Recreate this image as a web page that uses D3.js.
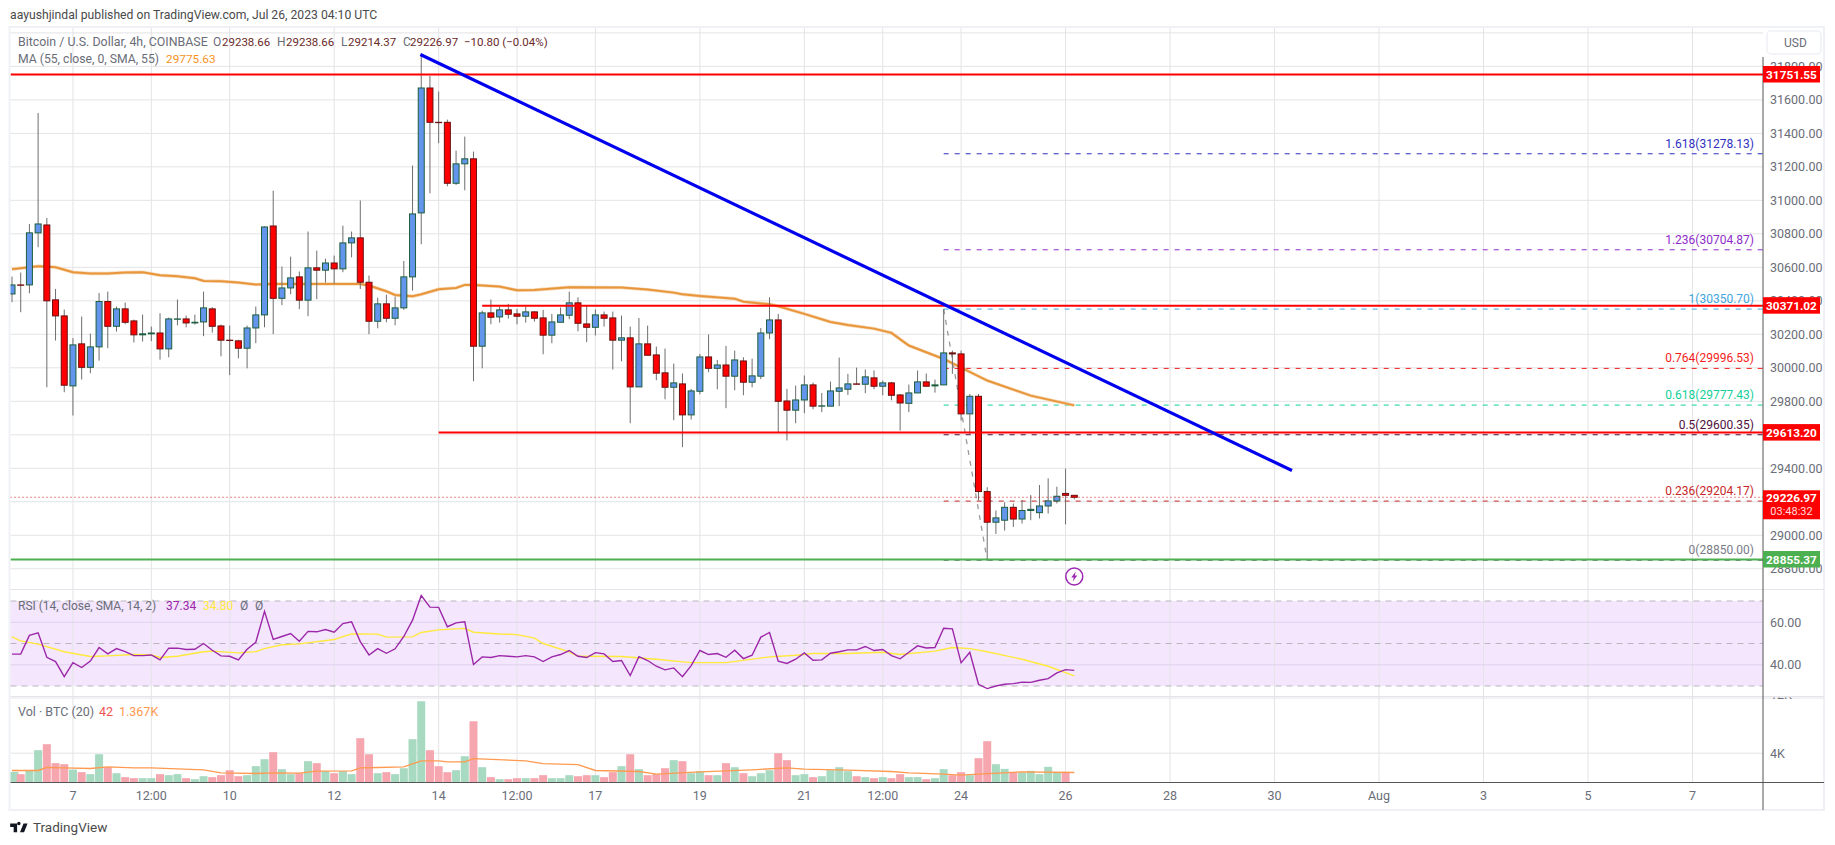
<!DOCTYPE html>
<html>
<head>
<meta charset="utf-8">
<script src="https://cdn.jsdelivr.net/npm/d3@7"></script>
<style>
  html, body { margin: 0; padding: 0; background: #fff; }
  svg { display: block; font-family: Roboto, sans-serif; }
  .tick-label { fill: #6a6d78; font-size: 12.5px; }
</style>
</head>
<body>
<svg width="1835" height="845"></svg>
<script>
// 4h candles, index 0 = Jul 5 20:00
const opens = [30441,30495,30495,30806,30853,30406,30310,29892,30143,30003,30125,30396,30248,30352,30280,30197,30203,30208,30113,30290,30292,30268,30274,30352,30250,30165,30161,30117,30238,30316,30847,30415,30477,30543,30404,30597,30583,30626,30591,30746,30776,30511,30278,30382,30296,30358,30543,30925,31671,31466,31466,31102,31218,31248,30129,30328,30304,30346,30322,30308,30334,30298,30195,30272,30314,30388,30262,30242,30316,30298,30165,30179,29886,30143,30077,29970,29884,29904,29719,29860,30065,29997,30017,29950,30041,29914,29950,30208,30286,29802,29747,29808,29898,29771,29771,29860,29872,29904,29902,29940,29890,29910,29838,29788,29850,29916,29892,29898,30089,30083,29725,29830,29261,29078,29090,29167,29097,29148,29135,29175,29205,29250,29238.66];
const highs = [30545,30569,30859,31522,30895,30471,30348,30177,30306,30204,30447,30455,30366,30390,30288,30318,30246,30326,30300,30408,30312,30318,30455,30362,30258,30252,30167,30252,30366,30845,31058,30605,30664,30575,30814,30700,30652,30670,30849,30814,30999,30551,30419,30437,30425,30638,31208,31871,31743,31650,31482,31297,31381,31291,30342,30408,30366,30382,30352,30366,30338,30346,30322,30360,30455,30421,30370,30348,30336,30336,30312,30246,30298,30252,30127,30115,30025,29966,29874,30083,30199,30047,30131,30103,30063,30055,30238,30421,30322,29874,29894,29954,29912,29850,29918,30061,29964,30001,29990,29984,29924,29916,29844,29900,29984,29966,29930,30350.7,30103,30103,29844,29844,29287,29148,29197,29190,29210,29240,29300,29340,29290,29398,29238.66];
const lows = [30392,30332,30445,30720,29884,30163,29854,29715,29930,29968,30043,30117,30216,30260,30151,30157,30159,30049,30063,30254,30242,30258,30189,30210,30069,29956,30057,29997,30147,30242,30201,30374,30439,30350,30308,30410,30509,30503,30571,30660,30471,30201,30236,30272,30254,30346,30461,30738,31042,31341,31084,31092,31060,29920,29997,30260,30270,30294,30260,30270,30276,30081,30147,30272,30290,30218,30153,30193,30246,29990,30039,29669,29886,30075,29926,29812,29687,29526,29691,29842,29974,29872,29759,29866,29836,29884,29932,30171,29615,29566,29669,29729,29753,29735,29771,29771,29838,29900,29848,29872,29836,29806,29625,29735,29850,29890,29852,29898,29964,29685,29605,29207,28850,29008,29028,29050,29070,29090,29100,29130,29190,29065,29214.37];
const closes = [30495,30493,30806,30859,30400,30310,29896,30137,30003,30125,30396,30248,30352,30272,30197,30203,30208,30113,30292,30292,30268,30272,30358,30248,30165,30163,30117,30238,30316,30841,30415,30477,30537,30404,30597,30583,30626,30591,30746,30776,30511,30278,30382,30296,30358,30543,30919,31671,31466,31464,31102,31218,31248,30129,30328,30302,30346,30320,30308,30334,30296,30195,30274,30316,30388,30266,30242,30316,30296,30165,30179,29886,30143,30075,29968,29884,29910,29719,29862,30065,29997,30017,29950,30047,29914,29952,30208,30286,29800,29747,29808,29898,29771,29773,29862,29880,29904,29902,29946,29890,29910,29836,29790,29850,29916,29890,29898,30089,30083,29725,29830,29261,29078,29104,29167,29097,29148,29155,29175,29205,29233,29238.66,29226.97];

// SMA 55
const maIdx = [0,3,5,7,9,11,13,15,17,19,21,22,24,26,28,30,34,38,40,41,43,44,46,47,49,51,52,53,56,58,60,64,70,73,76,77,79,83,84,87,88,91,94,96,99,101,103,107,112,117,122];
const maVal = [30589,30607,30601,30571,30563,30563,30569,30571,30553,30547,30535,30519,30517,30509,30497,30501,30501,30501,30501,30491,30457,30435,30427,30439,30469,30477,30495,30495,30485,30463,30465,30481,30479,30467,30449,30439,30429,30413,30395,30380,30368,30322,30274,30256,30234,30209,30133,30053,29924,29834,29775.63];

const rsi = [45,45,53.8,55,43.5,41.5,34.4,41,38.7,41.7,48.1,45.1,47.6,46.2,44.3,44.3,44.6,42.3,47.8,47.8,47.2,47.3,50,46.8,44.2,44,42.3,47.3,50.6,65.1,51.9,53.3,54.7,51.1,55.7,55.5,56.6,55.3,59.4,60.2,50.9,44.6,47.6,45.4,47.5,53.3,61,72.6,67.1,67,57.9,59.7,60.2,40.1,43.7,43.4,44.3,44,43.7,44.3,43.7,41.5,43.7,44.8,46.7,44,43.4,45.7,45.1,41.5,42,34.9,43.8,42,39.3,37.6,38.5,34.4,39.6,46.7,44.8,45.3,43.5,46.8,42.9,44.5,53,55.2,41.7,40.6,42.6,45.6,42.1,42.3,45.4,46.1,47,47,48.6,46.7,47.2,44.3,42.8,45.9,48.9,47.9,48.1,57.2,56.9,40.9,45.9,30.8,28.8,30,30.8,31.1,31.8,31.7,32.7,33.5,36.2,37.7,37.34];
const rsiMaIdx = [0,1,3,6,9,11,14,16,17,19,22,23,26,28,29,31,33,37,39,42,43,46,47,49,52,53,56,58,60,61,64,65,70,74,78,82,87,90,92,96,100,102,106,108,110,112,116,119,122];
const rsiMaVal = [53.1,51.2,49.7,46.1,43.9,44.2,44.8,44.6,43.4,44,46.1,46.4,45.6,46.2,47.6,49.4,49.8,51.9,54.5,54.4,53,53.1,55.2,56.4,57.1,55.3,54.5,54.2,52.5,50,46.1,44,43.9,42.6,41,41,43.7,44.5,45.3,45.3,45.9,44.8,46.4,48.1,47.6,46.1,42.6,39.3,34.8];

const volume = [1.45,1.14,1.59,4.41,5.23,2.64,2.5,1.77,1.41,1.14,3.86,2.09,1.27,.73,.59,.59,.59,1.14,1,1.14,.59,.45,.86,.73,1,1.68,.86,1,2.23,3.18,4.14,1.82,1.14,1.27,2.91,2.64,1.55,1.27,1.55,1.14,6.05,3.86,1.27,1.41,1.14,1.95,5.91,11.09,4.41,2.23,1.41,1.68,3.59,8.36,2.09,.73,.45,.45,.59,.59,.59,1,.59,.59,1,.86,1,1,.73,1.41,2.23,3.86,1.82,1,1.14,1.95,3.05,2.91,1.27,1.55,1,1,2.64,2.09,1.27,.86,1.27,1.68,4,3.05,1,1.14,.73,.86,1.68,2.09,1.55,.86,.73,.59,.73,.59,1.14,.73,.73,.45,.59,1.82,1,1.41,1,3.32,5.64,2.5,1.86,1.45,1.36,1.59,1.14,2.14,1.45,1.45,.042];
const volMaIdx = [0,3,4,6,9,11,14,16,19,22,24,28,30,33,35,39,40,42,45,47,49,50,52,53,59,61,65,67,72,74,79,85,89,91,96,101,103,107,109,111,116,122];
const volMaVal = [1.64,1.64,2.05,2,1.91,2.14,2,2,1.86,1.73,1.32,1.23,1.32,1.27,1.55,1.59,2,2.05,2.14,2.95,2.95,2.82,2.82,3.27,2.95,2.59,2.45,1.64,1.5,1.14,1.45,1.73,2,1.82,1.68,1.5,1.32,1.14,1,1.14,1.45,1.367];

const priceTicks = d3.range(28800, 32001, 200);
const rsiTicks = [60, 40];
const rsiBands = [70, 50, 30];
const volTicks = [4, 12];
const timeTickIdx = [7,16,25,37,49,58,67,79,91,100,109,121,133,145,157,169,181,193];
const timeTickLabels = ["7","12:00","10","12","14","12:00","17","19","21","12:00","24","26","28","30","Aug","3","5","7"];

const fibRatios = ["1.618","1.236","1","0.764","0.618","0.5","0.236","0"];
const fibPrices = [31278.13,30704.87,30350.70,29996.53,29777.43,29600.35,29204.17,28850.00];
const fibColors = ["#2f2fbf","#8e2cc9","#42a5e0","#f21d1d","#14cf9a","#4f0f3c","#c62828","#787b86"];

const priceTags = [31751.55,30371.02,29613.20];
const hLineStart = [0,54,49];
const supportPrice = 28855.37;
const lastClose = 29226.97;
const trendIdx = [46.9,147];
const trendPrice = [31871,29387];

const axisX = 1763, rightEdge = 1824, plotLeft = 10.5;
const up = "#6495ed", upBorder = "#1b5e3b", down = "#ff0000", downBorder = "#6b0f0f";

const svg = d3.select("svg");

const x = d3.scaleLinear().domain([0, 193]).range([12, 1692.5]);
const y = d3.scaleLinear().domain([31751.55, 28855.37]).range([74.5, 559.5]);
const yRsi = d3.scaleLinear().domain([70, 30]).range([601, 686]);
const yVol = d3.scaleLinear().domain([0, 4]).range([782.5, 753.2]);

const defs = svg.append("defs");
defs.append("clipPath").attr("id", "plot").append("rect")
  .attr("x", plotLeft).attr("y", 27.5).attr("width", axisX - plotLeft).attr("height", 561.5);
defs.append("clipPath").attr("id", "volPane").append("rect")
  .attr("x", plotLeft).attr("y", 697.5).attr("width", rightEdge - plotLeft).attr("height", 86);

// title
svg.append("text").attr("x", 10).attr("y", 19).attr("font-size", 12.2).attr("fill", "#4a4a4a")
  .text("aayushjindal published on TradingView.com, Jul 26, 2023 04:10 UTC");

// frame
svg.append("rect").attr("x", 9.5).attr("y", 27).attr("width", rightEdge - 9.5).attr("height", 783)
  .attr("fill", "#fff").attr("stroke", "#eff1f6").attr("stroke-width", 2);

// rsi background
svg.append("rect").attr("x", plotLeft).attr("y", yRsi(70)).attr("width", axisX - plotLeft)
  .attr("height", yRsi(30) - yRsi(70)).attr("fill", "#f3e6fd");

// grid
const gridColor = "#e4e4e6";
svg.append("g").selectAll("line").data(timeTickIdx).join("line")
  .attr("x1", d => x(d)).attr("x2", d => x(d)).attr("y1", 28).attr("y2", 782)
  .attr("stroke", gridColor).attr("stroke-width", 1);
svg.append("g").selectAll("line").data(priceTicks).join("line")
  .attr("x1", plotLeft).attr("x2", axisX).attr("y1", d => y(d)).attr("y2", d => y(d))
  .attr("stroke", gridColor);
svg.append("g").selectAll("line").data(rsiTicks).join("line")
  .attr("x1", plotLeft).attr("x2", axisX).attr("y1", d => yRsi(d)).attr("y2", d => yRsi(d))
  .attr("stroke", "#e0d0ee");
svg.append("g").selectAll("line").data(rsiBands).join("line")
  .attr("x1", plotLeft).attr("x2", axisX).attr("y1", d => yRsi(d)).attr("y2", d => yRsi(d))
  .attr("stroke", "#b9b5bf").attr("stroke-dasharray", "6 5");
svg.append("g").attr("clip-path", "url(#volPane)").selectAll("line").data(volTicks).join("line")
  .attr("x1", plotLeft).attr("x2", axisX).attr("y1", d => yVol(d)).attr("y2", d => yVol(d))
  .attr("stroke", gridColor);

// pane separators
svg.append("g").selectAll("line").data([589.5, 696.5, 698]).join("line")
  .attr("x1", plotLeft).attr("x2", rightEdge).attr("y1", d => d).attr("y2", d => d)
  .attr("stroke", "#e4e4ea");

const plot = svg.append("g").attr("clip-path", "url(#plot)");

// fib levels
const fibX1 = x(107);
plot.append("line").attr("x1", x(107)).attr("y1", y(fibPrices[2])).attr("x2", x(112)).attr("y2", y(fibPrices[7]))
  .attr("stroke", "#9a9a9a").attr("stroke-width", 1.3).attr("stroke-dasharray", "5 6");
plot.selectAll(".fib").data(fibPrices).join("line").attr("class", "fib")
  .attr("x1", fibX1).attr("x2", axisX).attr("y1", d => y(d)).attr("y2", d => y(d))
  .attr("stroke", (d, i) => fibColors[i]).attr("stroke-width", 1).attr("stroke-dasharray", "5 6");
plot.selectAll(".fibLabel").data(fibPrices).join("text").attr("class", "fibLabel")
  .attr("x", 1754).attr("y", d => y(d) - 6).attr("text-anchor", "end").attr("font-size", 12)
  .attr("fill", (d, i) => fibColors[i])
  .text((d, i) => `${fibRatios[i]}(${d.toFixed(2)})`);

// moving average
const ma = d3.line().x(d => x(d[0])).y(d => y(d[1]));
plot.append("path").attr("d", ma(d3.zip(maIdx, maVal))).attr("fill", "none")
  .attr("stroke", "#f4c590").attr("stroke-width", 3.4).attr("opacity", 0.7);
plot.append("path").attr("d", ma(d3.zip(maIdx, maVal))).attr("fill", "none")
  .attr("stroke", "#e8963c").attr("stroke-width", 2);

// candles
const candles = d3.range(opens.length);
const isUp = i => closes[i] >= opens[i];
plot.append("g").selectAll("line").data(candles).join("line")
  .attr("x1", i => x(i)).attr("x2", i => x(i))
  .attr("y1", i => y(highs[i])).attr("y2", i => y(lows[i]))
  .attr("stroke", "#6e6e6e").attr("stroke-width", 1);
plot.append("g").selectAll("rect").data(candles).join("rect")
  .attr("x", i => x(i) - 3)
  .attr("y", i => y(Math.max(opens[i], closes[i])))
  .attr("width", 6)
  .attr("height", i => Math.abs(y(opens[i]) - y(closes[i])))
  .attr("fill", i => isUp(i) ? up : down)
  .attr("stroke", i => isUp(i) ? upBorder : downBorder)
  .attr("stroke-width", 1);

// level lines
plot.append("line").attr("x1", plotLeft).attr("x2", axisX).attr("y1", y(priceTags[0])).attr("y2", y(priceTags[0]))
  .attr("stroke", "#ff0000").attr("stroke-width", 2);
plot.append("line").attr("x1", x(hLineStart[1])).attr("x2", axisX).attr("y1", y(priceTags[1])).attr("y2", y(priceTags[1]))
  .attr("stroke", "#ff0000").attr("stroke-width", 2);
plot.append("line").attr("x1", x(hLineStart[2])).attr("x2", axisX).attr("y1", y(priceTags[2])).attr("y2", y(priceTags[2]))
  .attr("stroke", "#ff0000").attr("stroke-width", 2);
plot.append("line").attr("x1", plotLeft).attr("x2", axisX).attr("y1", y(supportPrice)).attr("y2", y(supportPrice))
  .attr("stroke", "#4caf50").attr("stroke-width", 2);
plot.append("line").attr("x1", plotLeft).attr("x2", axisX).attr("y1", y(lastClose)).attr("y2", y(lastClose))
  .attr("stroke", "#e01010").attr("stroke-width", 1).attr("stroke-dasharray", "1 3");

// trend line
plot.append("line").attr("x1", x(trendIdx[0])).attr("y1", y(trendPrice[0]))
  .attr("x2", x(trendIdx[1])).attr("y2", y(trendPrice[1]))
  .attr("stroke", "#0000ee").attr("stroke-width", 3.2);

// rsi
const rsiLine = d3.line().x((d, i) => x(i)).y(d => yRsi(d));
const rsiMaLine = d3.line().x(d => x(d[0])).y(d => yRsi(d[1]));
svg.append("path").attr("d", rsiMaLine(d3.zip(rsiMaIdx, rsiMaVal))).attr("fill", "none")
  .attr("stroke", "#ffe93b").attr("stroke-width", 1.4);
svg.append("path").attr("d", rsiLine(rsi)).attr("fill", "none")
  .attr("stroke", "#9c27a8").attr("stroke-width", 1.4);

// volume
svg.append("g").selectAll("rect").data(candles).join("rect")
  .attr("x", i => Math.max(plotLeft, x(i) - 4))
  .attr("y", i => yVol(volume[i]))
  .attr("width", 8)
  .attr("height", i => yVol(0) - yVol(volume[i]))
  .attr("fill", i => isUp(i) ? "#a8d9c1" : "#f5a6ae");
const volMaLine = d3.line().x(d => x(d[0])).y(d => yVol(d[1]));
svg.append("path").attr("d", volMaLine(d3.zip(volMaIdx, volMaVal))).attr("fill", "none")
  .attr("stroke", "#ff9a50").attr("stroke-width", 1.3);

// lightning mark
const bolt = svg.append("g").attr("transform", `translate(${x(122)},${y(28855.37) + 17})`);
bolt.append("circle").attr("r", 8.5).attr("fill", "#fff").attr("stroke", "#9c27b0").attr("stroke-width", 1.5);
bolt.append("path").attr("d", "M1.5,-5 L-3,1 L-0.5,1 L-1.5,5 L3,-1 L0.5,-1 Z").attr("fill", "#9c27b0");

// axes lines
svg.append("line").attr("x1", axisX).attr("x2", axisX).attr("y1", 57).attr("y2", 810).attr("stroke", "#555");
svg.append("line").attr("x1", plotLeft).attr("x2", rightEdge).attr("y1", 782.5).attr("y2", 782.5).attr("stroke", "#555");

// price axis labels, the two levels fully under a price tag are left out
const hiddenTicks = [29600, 29200, 32000];
svg.append("g").selectAll("text").data(priceTicks.filter(d => !hiddenTicks.includes(d))).join("text")
  .attr("class", "tick-label").attr("x", 1770).attr("y", d => y(d) + 4.5).text(d => d.toFixed(2));
svg.append("g").selectAll("text").data(rsiTicks).join("text")
  .attr("class", "tick-label").attr("x", 1770).attr("y", d => yRsi(d) + 4.5).text(d => d.toFixed(2));
svg.append("g").attr("clip-path", "url(#volPane)").selectAll("text").data(volTicks).join("text")
  .attr("class", "tick-label").attr("x", 1770).attr("y", d => yVol(d) + 4.5).text(d => d + "K");

// time axis labels
svg.append("g").selectAll("text").data(timeTickIdx).join("text")
  .attr("class", "tick-label").attr("x", d => x(d)).attr("y", 800).attr("text-anchor", "middle")
  .text((d, i) => timeTickLabels[i]);

// USD button
svg.append("rect").attr("x", 1767).attr("y", 31).attr("width", 54).attr("height", 23).attr("rx", 4)
  .attr("fill", "#fff").attr("stroke", "#eff1f6").attr("stroke-width", 1.5);
svg.append("text").attr("x", 1784).attr("y", 46.5).attr("font-size", 12).attr("fill", "#6a6d78").text("USD");

// price tags
const tags = [
  { p: priceTags[0], c: "#ff0000" },
  { p: priceTags[1], c: "#ff0000" },
  { p: priceTags[2], c: "#ff0000" },
  { p: supportPrice, c: "#4caf50" }
];
svg.append("g").selectAll("rect").data(tags).join("rect")
  .attr("x", axisX).attr("y", d => y(d.p) - 8.5).attr("width", 57).attr("height", 16.5).attr("fill", d => d.c);
svg.append("g").selectAll("text").data(tags).join("text")
  .attr("x", 1791.5).attr("y", d => y(d.p) + 4.5).attr("text-anchor", "middle")
  .attr("font-size", 11.8).attr("font-weight", 700).attr("fill", "#fff").text(d => d.p.toFixed(2));
svg.append("rect").attr("x", axisX).attr("y", y(lastClose) - 7).attr("width", 57).attr("height", 29).attr("fill", "#ff0000");
svg.append("text").attr("x", 1791.5).attr("y", y(lastClose) + 4.5).attr("text-anchor", "middle")
  .attr("font-size", 11.8).attr("font-weight", 700).attr("fill", "#fff").text(lastClose.toFixed(2));
svg.append("text").attr("x", 1791.5).attr("y", y(lastClose) + 18).attr("text-anchor", "middle")
  .attr("font-size", 11).attr("fill", "#ffdcdc").text("03:48:32");

// legends: [x, text, colour, size]
function legend(yPos, parts) {
  const g = svg.append("g");
  parts.forEach(p => {
    g.append("text").attr("x", p[0]).attr("y", yPos)
      .attr("font-size", p[3]).attr("fill", p[2]).text(p[1]);
  });
}
const grey = "#6a6d78", maroon = "#6b2a2a";
legend(46, [
  [18, "Bitcoin / U.S. Dollar, 4h, COINBASE", grey, 12.4],
  [213, "O", grey, 12], [222, "29238.66", maroon, 11.5],
  [277, "H", grey, 12], [286, "29238.66", maroon, 11.5],
  [341, "L", grey, 12], [348, "29214.37", maroon, 11.5],
  [403, "C", grey, 12], [410, "29226.97", maroon, 11.5],
  [464, "−10.80 (−0.04%)", maroon, 11.5]
]);
legend(63, [
  [18, "MA (55, close, 0, SMA, 55)", grey, 12.2],
  [166, "29775.63", "#f7931e", 11.8]
]);
legend(609.5, [
  [18, "RSI (14, close, SMA, 14, 2)", grey, 12],
  [166, "37.34", "#9c27a8", 12],
  [203, "34.80", "#ffe93b", 12],
  [240, "Ø", grey, 12], [255, "Ø", grey, 12]
]);
legend(716, [
  [18, "Vol · BTC (20)", grey, 12.5],
  [99, "42", "#ef5350", 12.5],
  [119, "1.367K", "#ff9a50", 12.5]
]);

// logo
svg.append("path").attr("transform", "translate(9,820) scale(0.58)")
  .attr("d", "M14 6H2v6h6v9h6V6zm12 15h-7l6-15h7l-6 15zm-6-15a3 3 0 1 1-6 0 3 3 0 0 1 6 0z")
  .attr("fill", "#131722");
svg.append("text").attr("x", 33).attr("y", 832).attr("font-size", 13.5).attr("fill", "#4a4a4a").text("TradingView");
</script>
</body>
</html>
